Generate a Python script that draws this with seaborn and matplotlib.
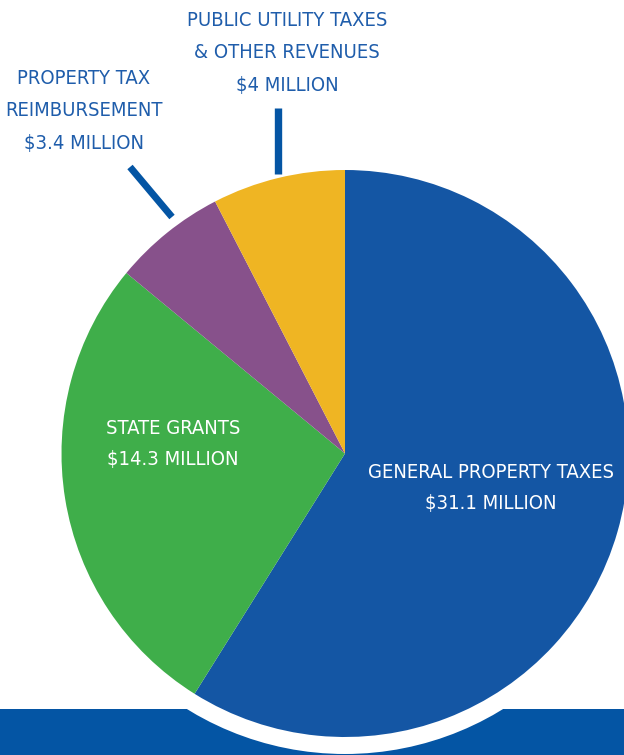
import matplotlib
matplotlib.use("Agg")
import matplotlib.pyplot as plt
from matplotlib import font_manager
from matplotlib.patches import Rectangle, Circle
import seaborn as sns

# --- data ---
sources = ["General Property Taxes", "State Grants",
           "Property Tax Reimbursement", "Public Utility Taxes & Other Revenues"]
amounts = [31.1, 14.3, 3.4, 4.0]  # $ million
label_lines = [["GENERAL PROPERTY TAXES"], ["STATE GRANTS"],
               ["PROPERTY TAX", "REIMBURSEMENT"],
               ["PUBLIC UTILITY TAXES", "& OTHER REVENUES"]]
amount_labels = ["$31.1 MILLION", "$14.3 MILLION", "$3.4 MILLION", "$4 MILLION"]
slice_colors = ["#1456a4", "#3fae4a", "#87518b", "#efb523"]

BAR_BLUE = "#0455a4"
TEXT_BLUE = "#1f5dab"
W, H = 624, 755


def pick_font(names):
    for n in names:
        try:
            path = font_manager.findfont(font_manager.FontProperties(family=n, stretch="condensed"),
                                         fallback_to_default=False)
            return n
        except ValueError:
            pass
    return "DejaVu Sans"


sns.set_theme(style="white")
FONT = pick_font(["Liberation Sans Narrow", "DejaVu Sans Condensed", "DejaVu Sans"])
plt.rcParams["font.family"] = [FONT, "DejaVu Sans"]

fig = plt.figure(figsize=(W / 100, H / 100), dpi=100)
ax = fig.add_axes([0, 0, 1, 1])

cx, cy, r = 345, H - 453.5, 283.5

# bottom band and white halo around the pie
ax.add_patch(Rectangle((0, 0), W, H - 709, color=BAR_BLUE, lw=0, zorder=0))
ax.add_patch(Circle((cx, cy), r + 17, color="white", lw=0, zorder=1))

ax.pie(amounts, colors=slice_colors, startangle=90, counterclock=False,
       center=(cx, cy), radius=r, wedgeprops=dict(linewidth=0, zorder=2))

# leader lines
ax.plot([277.5, 277.5], [H - 108, H - 174], color=BAR_BLUE, lw=5.3,
        solid_capstyle="butt", zorder=3)
ax.plot([130, 172], [H - 167, H - 217], color=BAR_BLUE, lw=5.0,
        solid_capstyle="butt", zorder=3)

# fit font size to the widest reference label
renderer = fig.canvas.get_renderer()
probe = ax.text(0, 0, "GENERAL PROPERTY TAXES", fontsize=20, fontstretch="condensed")
wpx = probe.get_window_extent(renderer).width
probe.remove()
fs = min(22, 20 * 247 / wpx)


def put(lines, x, ys, color):
    for s, y in zip(lines, ys):
        ax.text(x, H - y, s, fontsize=fs, color=color, ha="center", va="center",
                fontstretch="condensed", zorder=5)


put(label_lines[0] + [amount_labels[0]], 491, [472, 503], "white")
put(label_lines[1] + [amount_labels[1]], 173, [429, 460], "white")
put(label_lines[2] + [amount_labels[2]], 84, [79, 111, 143], TEXT_BLUE)
put(label_lines[3] + [amount_labels[3]], 287, [21, 53, 86], TEXT_BLUE)

ax.set_xlim(0, W)
ax.set_ylim(0, H)
ax.set_aspect("equal")
ax.set_axis_off()

fig.savefig("out.png", dpi=100)
